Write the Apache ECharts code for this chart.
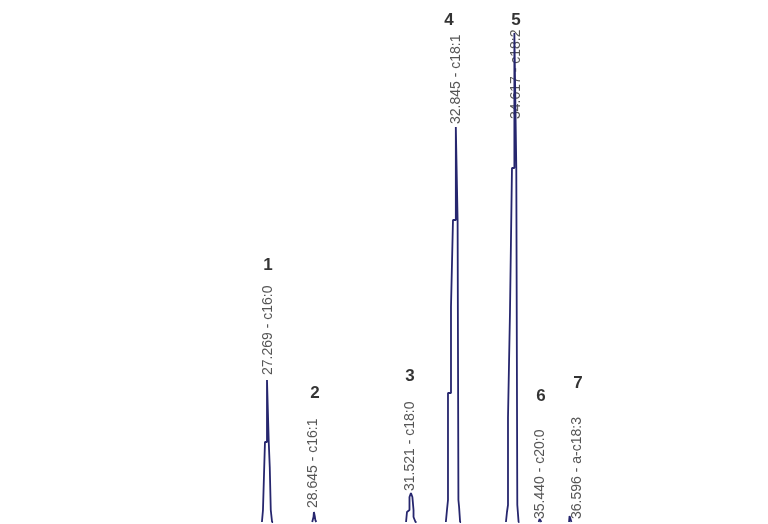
<!DOCTYPE html>
<html>
<head>
<meta charset="utf-8">
<script src="https://cdn.jsdelivr.net/npm/echarts@6/dist/echarts.min.js"></script>
<style>
  html, body { margin: 0; padding: 0; background: #fff; }
  #chart { width: 768px; height: 524px; }
</style>
</head>
<body>
<div id="chart"></div>
<script>
// retention time (min) / signal
const peak1 = [[27.09,0],[27.121,0],[27.121,12],[27.180,12],[27.180,80],[27.240,80],[27.240,142],[27.292,142],[27.292,80],[27.322,80],[27.322,55],[27.352,55],[27.352,12],[27.390,0],[27.42,0]]
const peak2 = [[28.58,0],[28.605,2],[28.618,5],[28.630,10],[28.648,10],[28.660,5],[28.672,2],[28.70,0]]
const peak3 = [[31.36,0],[31.388,0],[31.388,10],[31.462,12],[31.462,25],[31.497,27],[31.505,29],[31.542,29],[31.548,25],[31.582,12],[31.582,5],[31.64,0],[31.67,0]]
const peak4 = [[32.54,0],[32.573,0],[32.573,12],[32.603,22],[32.603,129],[32.692,129],[32.692,215],[32.751,215],[32.751,302],[32.835,302],[32.835,395],[32.888,395],[32.888,302],[32.912,302],[32.912,22],[32.932,15],[32.962,0],[32.99,0]]
const peak5 = [[34.32,0],[34.351,0],[34.351,10],[34.381,17],[34.381,104],[34.440,104],[34.440,210],[34.499,210],[34.499,354],[34.570,354],[34.570,489],[34.627,489],[34.627,354],[34.657,354],[34.657,17],[34.695,0],[34.72,0]]
const peak6 = [[35.29,0],[35.318,3],[35.340,3],[35.37,0]]
const peak7 = [[36.19,0],[36.205,6],[36.225,8],[36.245,4],[36.26,0]]

const peakLabels = ['27.269 - c16:0','28.645 - c16:1','31.521 - c18:0','32.845 - c18:1','34.617 - c18:2','35.440 - c20:0','36.596 - a-c18:3']
const labelAnchors = [[27.270,147],[28.603,14],[31.477,31],[32.840,398],[34.618,403],[35.329,3],[36.425,3]]
const peakNumbers = ['1','2','3','4','5','6','7']
const numberAnchors = [[27.270,257],[28.662,129],[31.477,146],[32.633,502],[34.618,502],[35.359,126],[36.455,139]]

const traces = [peak1, peak2, peak3, peak4, peak5, peak6, peak7]

const chart = echarts.init(document.getElementById('chart'))

const series = traces.map(function (d) {
  return {
    type: 'line',
    data: d,
    symbol: 'none',
    silent: true,
    lineStyle: { color: '#26266e', width: 1.8 },
    clip: false
  }
})

series.push({
  type: 'scatter',
  data: labelAnchors.map(function (p, i) { return { value: p, name: peakLabels[i] } }),
  symbolSize: 0,
  clip: false,
  label: {
    show: true,
    formatter: '{b}',
    position: 'inside',
    rotate: 90,
    align: 'left',
    verticalAlign: 'middle',
    fontFamily: 'Liberation Sans, Arial, sans-serif',
    fontSize: 14,
    color: '#2b2b2b',
    textBorderWidth: 0
  }
})

series.push({
  type: 'scatter',
  data: numberAnchors.map(function (p, i) { return { value: p, name: peakNumbers[i] } }),
  symbolSize: 0,
  clip: false,
  label: {
    show: true,
    formatter: '{b}',
    position: 'inside',
    fontFamily: 'Liberation Sans, Arial, sans-serif',
    fontWeight: 'bold',
    fontSize: 17,
    color: '#000',
    textBorderWidth: 0
  }
})

const option = {
  backgroundColor: '#fff',
  animation: false,
  grid: { left: 0, right: 0, top: 0, bottom: 2 },
  xAxis: {
    type: 'value',
    min: 19.329,
    max: 42.085,
    show: false
  },
  yAxis: {
    type: 'value',
    min: 0,
    max: 522,
    show: false
  },
  series: series
}
chart.setOption(option)
</script>
</body>
</html>
